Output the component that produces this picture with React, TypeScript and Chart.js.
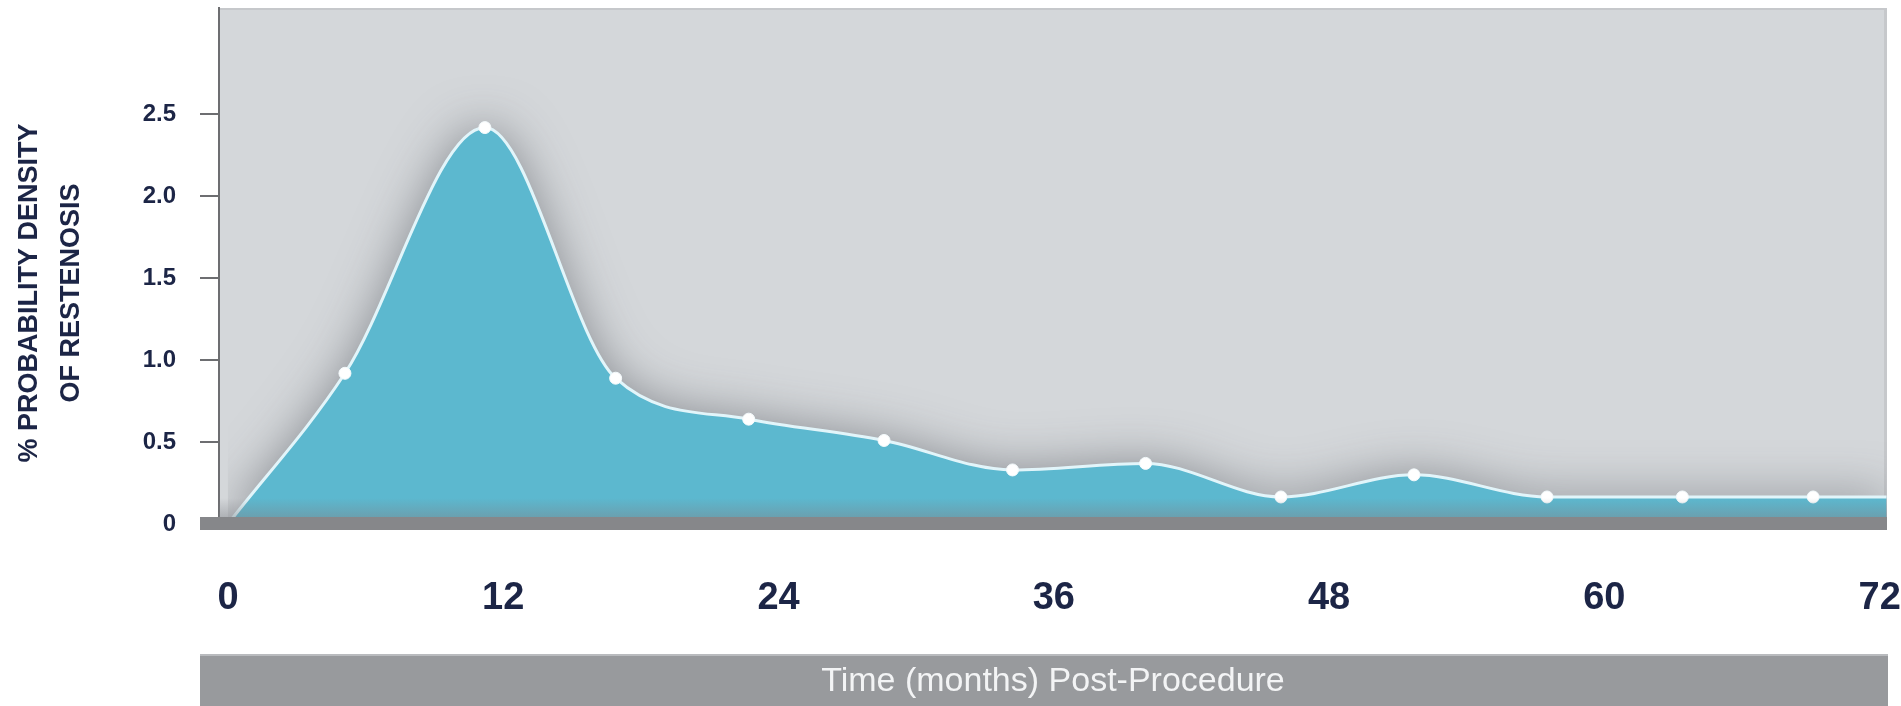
import React, { useEffect, useRef } from "react";
import { Chart, registerables } from "chart.js";

Chart.register(...registerables);

// Restenosis probability density by month after the procedure
const months = [0, 5.1, 11.2, 16.9, 22.7, 28.6, 34.2, 40.0, 45.9, 51.7, 57.5, 63.4, 69.1, 72.3];
const density = [0, 0.92, 2.42, 0.89, 0.64, 0.51, 0.33, 0.37, 0.165, 0.3, 0.165, 0.165, 0.165, 0.165];
const markerShown = [false, true, true, true, true, true, true, true, true, true, true, true, true, false];

const xTicks = [0, 12, 24, 36, 48, 60, 72];
const yTicks = [0, 0.5, 1, 1.5, 2, 2.5];

const yTitleLines = ["% PROBABILITY DENSITY", "OF RESTENOSIS"];
const xTitle = "Time (months) Post-Procedure";

const SANS = "'Liberation Sans', Arial, sans-serif";
const NAVY = "#1c2546";
const AXIS_GREY = "#6d6e71";

const panelPlugin = {
  id: "panel",
  beforeDraw(chart: any) {
    const { ctx, chartArea: a } = chart;
    ctx.save();
    // plot panel
    ctx.fillStyle = "#d4d7da";
    ctx.fillRect(a.left, a.top, a.right - a.left, a.bottom - a.top);
    ctx.fillStyle = "#c6c8cb";
    ctx.fillRect(a.right - 3, a.top, 3, a.bottom - a.top);
    ctx.fillRect(a.left, a.top, a.right - a.left, 2);
    // band behind the x-axis title
    const yScale = chart.scales.y;
    const bandLeft = yScale.right - yScale.options.grid.tickLength;
    ctx.fillStyle = "#989a9d";
    ctx.fillRect(bandLeft, 654, a.right + 1 - bandLeft, chart.height - 654);
    ctx.fillStyle = "#b9bbbe";
    ctx.fillRect(bandLeft, 654, a.right + 1 - bandLeft, 2);
    ctx.restore();
  },
  beforeDatasetsDraw(chart: any) {
    const { ctx } = chart;
    ctx.save();
    ctx.shadowColor = "rgba(70, 72, 80, 0.55)";
    ctx.shadowBlur = 48;
    ctx.shadowOffsetX = 0;
    ctx.shadowOffsetY = 0;
  },
  beforeDatasetDraw(chart: any) {
    // the area fill has been painted by now; keep line and points crisp
    const { ctx } = chart;
    ctx.shadowColor = "rgba(0,0,0,0)";
    ctx.shadowBlur = 0;
  },
  afterDatasetsDraw(chart: any) {
    const { ctx, chartArea: a, scales } = chart;
    ctx.restore();
    ctx.save();
    const zeroY = scales.y.getPixelForValue(0);
    // soft darkening just above the baseline
    const g = ctx.createLinearGradient(0, zeroY - 26, 0, zeroY - 6);
    g.addColorStop(0, "rgba(125,128,134,0)");
    g.addColorStop(1, "rgba(125,128,134,0.45)");
    ctx.fillStyle = g;
    ctx.fillRect(a.left, zeroY - 26, a.right - a.left, 20);
    // baseline bar
    const barLeft = scales.y.right - scales.y.options.grid.tickLength;
    ctx.fillStyle = "#86878a";
    ctx.fillRect(barLeft, zeroY - 7, a.right - barLeft, 13);
    // y-axis title, two rotated lines
    ctx.fillStyle = NAVY;
    ctx.font = `bold 27px ${SANS}`;
    ctx.textAlign = "center";
    ctx.textBaseline = "middle";
    const cy = 293;
    [30, 72].forEach((cx, i) => {
      ctx.save();
      ctx.translate(cx, cy);
      ctx.rotate(-Math.PI / 2);
      ctx.fillText(yTitleLines[i], 0, 0);
      ctx.restore();
    });
    ctx.restore();
  },
};

export default function App() {
  const canvasRef = useRef<HTMLCanvasElement | null>(null);

  useEffect(() => {
    if (!canvasRef.current) return;
    const chart = new Chart(canvasRef.current, {
      type: "line",
      data: {
        datasets: [
          {
            data: months.map((m, i) => ({ x: m, y: density[i] })),
            fill: "origin",
            backgroundColor: "#5cb8cf",
            borderColor: "#e2f5fa",
            borderWidth: 3,
            cubicInterpolationMode: "monotone",
            pointRadius: markerShown.map((s) => (s ? 6 : 0)),
            pointBackgroundColor: "#ffffff",
            pointBorderColor: "#f4fbfd",
            pointBorderWidth: 1,
          },
        ],
      },
      options: {
        animation: false,
        responsive: true,
        maintainAspectRatio: false,
        layout: { padding: { top: 8, right: 14, bottom: 0, left: 0 } },
        plugins: { legend: { display: false }, tooltip: { enabled: false } },
        scales: {
          x: {
            type: "linear",
            min: -0.39,
            max: 72.32,
            afterBuildTicks: (s: any) => {
              s.ticks = xTicks.map((v) => ({ value: v }));
            },
            afterFit: (s: any) => {
              s.height = 182;
              s.paddingLeft = 0;
              s.paddingRight = 0;
            },
            grid: { display: false, drawTicks: false, tickLength: 0 },
            border: { display: false },
            ticks: {
              autoSkip: false,
              maxRotation: 0,
              padding: 52,
              color: NAVY,
              font: { family: SANS, size: 38, weight: "bold" },
              callback: (v: any) => String(v),
            },
            title: {
              display: true,
              text: xTitle,
              color: "#f3f4f5",
              font: { family: SANS, size: 34 },
              padding: { top: 0, bottom: 4 },
            },
          },
          y: {
            min: 0,
            max: 3.15,
            afterBuildTicks: (s: any) => {
              s.ticks = yTicks.map((v) => ({ value: v }));
            },
            afterFit: (s: any) => {
              s.width = 219;
              s.paddingTop = 0;
              s.paddingBottom = 0;
            },
            grid: {
              drawOnChartArea: false,
              drawTicks: true,
              tickLength: 19,
              color: AXIS_GREY,
              lineWidth: 2,
            },
            border: { display: true, color: AXIS_GREY, width: 2 },
            ticks: {
              padding: 24,
              color: NAVY,
              font: { family: SANS, size: 24, weight: "bold" },
              callback: (v: any) => (v === 0 ? "0" : Number(v).toFixed(1)),
            },
          },
        },
      },
      plugins: [panelPlugin],
    } as any);
    return () => chart.destroy();
  }, []);

  return (
    <div style={{ position: "absolute", left: 0, top: 0, width: 1901, height: 706, background: "#ffffff" }}>
      <canvas ref={canvasRef} />
    </div>
  );
}
